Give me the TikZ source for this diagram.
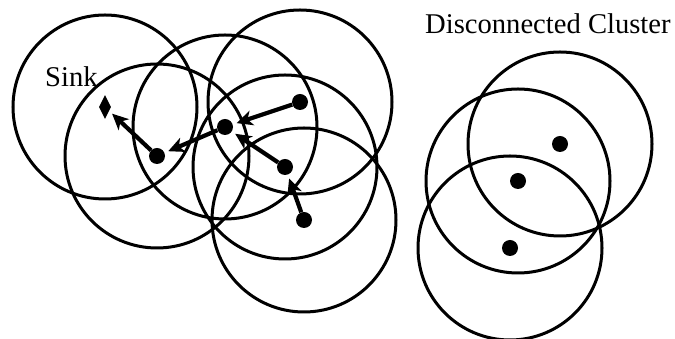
\documentclass[tikz,border=0pt]{standalone}
\usepackage{fontspec}
\setmainfont{Liberation Serif}
\usetikzlibrary{arrows.meta,shapes.geometric}

\begin{document}
\begin{tikzpicture}[
  x=1pt,y=1pt,
  font=\fontsize{28.6}{34}\selectfont,
  >={Stealth[length=16pt,width=15pt,inset=4.5pt]},
  sensor/.style={circle,fill=black,minimum size=16pt,inner sep=0pt},
  sink/.style={diamond,fill=black,aspect=0.5,minimum width=12pt,minimum height=24pt,inner sep=0pt},
  radiorange/.style={line width=3pt},
  hop/.style={->,line width=4.2pt,shorten >=4pt}
]
\useasboundingbox (0,0) rectangle (675,339);

% connected part
\node[sink] (s) at (105,232) {};
\node[sensor] (n1) at (157,183) {};
\node[sensor] (n2) at (225,212) {};
\node[sensor] (n3) at (300,237) {};
\node[sensor] (n4) at (285,172) {};
\node[sensor] (n5) at (304,119) {};

% disconnected cluster
\node[sensor] (m1) at (560,195) {};
\node[sensor] (m2) at (518,158) {};
\node[sensor] (m3) at (510,91) {};

\foreach \n in {s,n1,n2,n3,n4,n5,m1,m2,m3}{
  \draw[radiorange] (\n) circle[radius=92];
}

\draw[hop] (n1) -- (s);
\draw[hop] (n2) -- (n1);
\draw[hop] (n3) -- (n2);
\draw[hop] (n4) -- (n2);
\draw[hop] (n5) -- (n4);

\node[anchor=base west,inner sep=0pt] (sinklbl) at (45,252) {Sink};
\node[anchor=base west,inner sep=0pt] (clusterlbl) at (425,305) {Disconnected Cluster};
\end{tikzpicture}
\end{document}
